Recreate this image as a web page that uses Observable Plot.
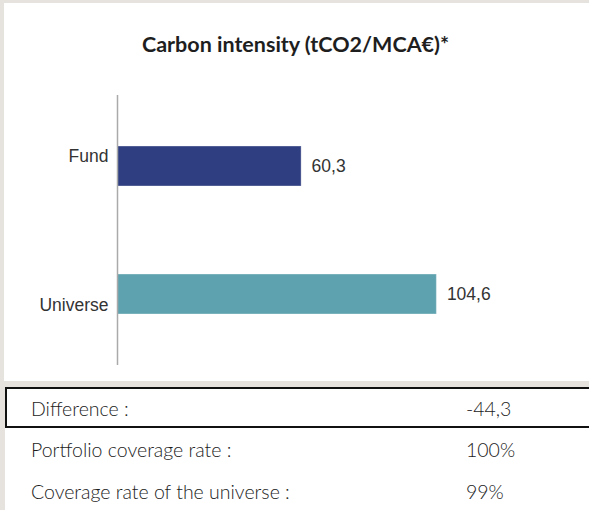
<!DOCTYPE html>
<html>
<head>
<meta charset="utf-8">
<script src="https://cdn.jsdelivr.net/npm/d3@7"></script>
<script src="https://cdn.jsdelivr.net/npm/@observablehq/plot@0.6"></script>
<style>
  html, body { margin: 0; padding: 0; background: #e6e2de; }
  #wrap { position: relative; width: 589px; height: 510px; overflow: hidden; background: #e6e2de; }
  #card { position: absolute; left: 4px; top: 3px; width: 620px; height: 378px; background: #fff; }
  #title { position: absolute; left: 4px; top: 30px; width: 583px; text-align: center;
           font-family: Lato, "Open Sans", sans-serif; font-weight: 700; font-size: 21.5px; color: #1e1e1e; line-height: 28px; }
  #chart { position: absolute; left: 0; top: 80px; }
  #table { position: absolute; left: 5px; top: 387px; width: 620px; height: 130px; background: #fff; }
  .row { position: absolute; left: 0; width: 620px; height: 41px; box-sizing: border-box;
         font-family: Lato, "Open Sans", sans-serif; font-weight: 300; font-size: 19.5px; color: #1c1c1c; }
  .row.boxed { border: 2px solid #111; }
  .row span { position: absolute; top: 50%; transform: translateY(-50%); white-space: nowrap; }
</style>
</head>
<body>
<div id="wrap">
  <div id="card"></div>
  <div id="title"></div>
  <div id="chart"></div>
  <div id="table"></div>
</div>
<script>
// ---- data ----
const titleText = "Carbon intensity (tCO2/MCA€)*";
const categories = ["Fund", "Universe"];
const values = [60.3, 104.6];
const barColors = ["#2f3e80", "#5fa2af"];
const tableLabels = ["Difference :", "Portfolio coverage rate :", "Coverage rate of the universe :"];
const tableValues = ["-44,3", "100%", "99%"];

const data = categories.map((c, i) => ({name: c, value: values[i]}));
const fmt = v => d3.format(".1f")(v).replace(".", ",");

document.getElementById("title").textContent = titleText;

const chart = Plot.plot({
  width: 589,
  height: 300,
  marginLeft: 117,
  marginRight: 14,
  marginTop: 15,
  marginBottom: 15,
  style: {fontFamily: "'Liberation Sans', Arial, sans-serif", fontSize: "17.5px", color: "#333", background: "transparent"},
  x: {domain: [0, 150], axis: null},
  y: {domain: categories, paddingInner: 0.6875, paddingOuter: 0.3984, axis: null},
  color: {domain: categories, range: barColors},
  marks: [
    Plot.barX(data, {x: "value", y: "name", fill: "name", stroke: "#ffffff", strokeOpacity: 0.35, strokeWidth: 1}),
    Plot.ruleX([0], {stroke: "#aaaaaa", strokeWidth: 1.5}),
    Plot.axisY({ticks: [categories[0]], tickSize: 0, tickPadding: 9, dy: -10, label: null, fill: "#333"}),
    Plot.axisY({ticks: [categories[1]], tickSize: 0, tickPadding: 9, dy: 11, label: null, fill: "#333"}),
    Plot.text(data, {x: "value", y: "name", text: d => fmt(d.value), dx: 10, textAnchor: "start", fill: "#333"})
  ]
});
document.getElementById("chart").appendChild(chart);

const table = document.getElementById("table");
tableLabels.forEach((lab, i) => {
  const row = document.createElement("div");
  row.className = "row" + (i === 0 ? " boxed" : "");
  row.style.top = (i * 41.5) + "px";
  const a = document.createElement("span");
  a.textContent = lab;
  a.style.left = (i === 0 ? 24 : 26) + "px";
  const b = document.createElement("span");
  b.textContent = tableValues[i];
  b.style.left = (i === 0 ? 459 : 461) + "px";
  row.appendChild(a); row.appendChild(b);
  table.appendChild(row);
});
</script>
</body>
</html>
